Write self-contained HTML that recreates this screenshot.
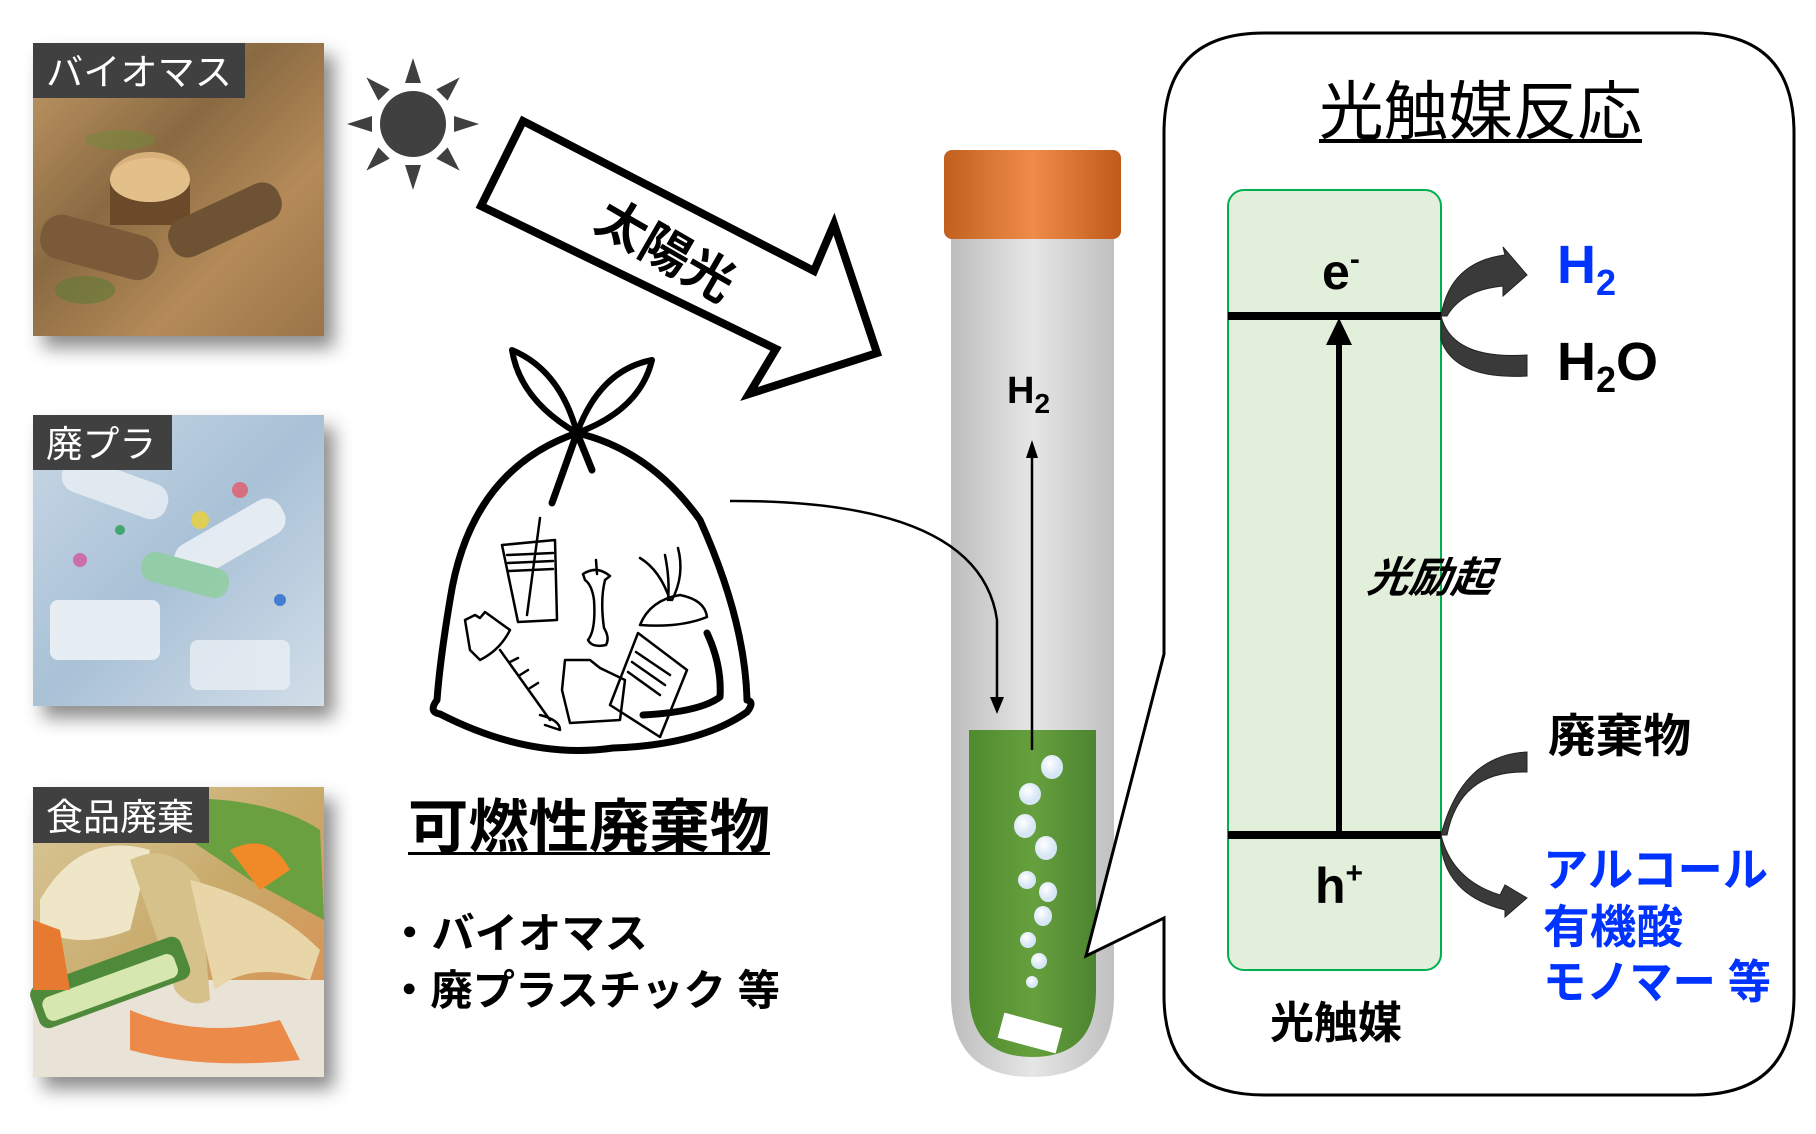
<!DOCTYPE html>
<html><head><meta charset="utf-8"><style>
html,body{margin:0;padding:0;background:#fff;}
svg{display:block;}
text{font-family:"Liberation Sans","Noto Sans CJK JP",sans-serif;}
</style></head><body>
<svg width="1816" height="1134" viewBox="0 0 1816 1134" xmlns="http://www.w3.org/2000/svg">
<defs>
<filter id="sh" x="-20%" y="-20%" width="150%" height="150%"><feDropShadow dx="10" dy="12" stdDeviation="9" flood-color="#000" flood-opacity="0.45"/></filter>
<linearGradient id="cap" x1="0" x2="1"><stop offset="0" stop-color="#c0601e"/><stop offset="0.5" stop-color="#f08c4a"/><stop offset="1" stop-color="#bf5a18"/></linearGradient>
<linearGradient id="tube" x1="0" x2="1"><stop offset="0" stop-color="#bdbdbd"/><stop offset="0.5" stop-color="#e6e6e6"/><stop offset="1" stop-color="#c0c0c0"/></linearGradient>
<linearGradient id="liq" x1="0" x2="1"><stop offset="0" stop-color="#4f8a2e"/><stop offset="0.5" stop-color="#66a03e"/><stop offset="1" stop-color="#4d8530"/></linearGradient>
<radialGradient id="bub" cx="0.4" cy="0.35"><stop offset="0" stop-color="#fff"/><stop offset="1" stop-color="#d7e6f5"/></radialGradient>
<linearGradient id="bio" x1="0" y1="0" x2="1" y2="1"><stop offset="0" stop-color="#c39a66"/><stop offset="0.4" stop-color="#8a6a42"/><stop offset="0.7" stop-color="#b48a58"/><stop offset="1" stop-color="#9a7448"/></linearGradient>
<linearGradient id="pla" x1="0" y1="0" x2="1" y2="1"><stop offset="0" stop-color="#c8d8e6"/><stop offset="0.5" stop-color="#a9c1d6"/><stop offset="1" stop-color="#d2dee9"/></linearGradient>
<linearGradient id="food" x1="0" y1="0" x2="1" y2="1"><stop offset="0" stop-color="#d9c89a"/><stop offset="0.5" stop-color="#c8aa6a"/><stop offset="1" stop-color="#e08a50"/></linearGradient>
</defs>

<g filter="url(#sh)">
<rect x="33" y="43" width="291" height="293" fill="url(#bio)"/>
<rect x="33" y="415" width="291" height="291" fill="url(#pla)"/>
<rect x="33" y="787" width="291" height="290" fill="url(#food)"/>
</g>
<g>
<ellipse cx="150" cy="180" rx="40" ry="28" fill="#d8b07a"/><rect x="110" y="180" width="80" height="45" fill="#6b4a2a"/><ellipse cx="150" cy="180" rx="40" ry="22" fill="#e3c08a"/>
<rect x="40" y="225" width="120" height="45" rx="20" fill="#7a5a38" transform="rotate(15 100 245)"/>
<rect x="165" y="200" width="120" height="40" rx="18" fill="#6e5234" transform="rotate(-25 225 220)"/>
<ellipse cx="85" cy="290" rx="30" ry="14" fill="#5f7a36" opacity="0.6"/>
<ellipse cx="120" cy="140" rx="35" ry="10" fill="#6f8a3a" opacity="0.5"/>
</g>
<g opacity="0.85">
<rect x="60" y="470" width="110" height="36" rx="16" fill="#e8eef4" transform="rotate(20 115 488)"/>
<rect x="170" y="520" width="120" height="38" rx="16" fill="#eef3f7" transform="rotate(-30 230 539)"/>
<rect x="140" y="560" width="90" height="30" rx="14" fill="#8fcfa0" transform="rotate(15 185 575)"/>
<rect x="50" y="600" width="110" height="60" rx="8" fill="#f0f4f8"/>
<rect x="190" y="640" width="100" height="50" rx="8" fill="#e6edf3"/>
<circle cx="240" cy="490" r="8" fill="#e06070"/><circle cx="200" cy="520" r="9" fill="#e8d040"/><circle cx="80" cy="560" r="7" fill="#d060a0"/>
<circle cx="280" cy="600" r="6" fill="#3070d0"/><circle cx="120" cy="530" r="5" fill="#30a060"/>
</g>
<g>
<rect x="33" y="980" width="291" height="97" fill="#e9e2d6"/>
<path d="M130 800 Q260 790 320 830 L324 920 L250 880 Z" fill="#6aa040"/>
<path d="M40 900 Q80 830 150 850 L130 930 Q80 950 40 930Z" fill="#efe6c8"/>
<path d="M130 860 Q170 840 200 880 L210 1000 Q190 1010 175 990 Z" fill="#d7c18a"/>
<path d="M190 880 Q270 900 320 950 L310 980 Q250 960 215 990 Z" fill="#e8d6a8"/>
<rect x="30" y="960" width="160" height="45" rx="10" fill="#4f8a3a" transform="rotate(-20 110 982)"/>
<rect x="40" y="975" width="140" height="25" rx="8" fill="#d6e8b0" transform="rotate(-20 110 987)"/>
<path d="M33 920 L60 930 L70 990 L33 990Z" fill="#e57a30"/>
<path d="M130 1010 Q200 1040 280 1020 L300 1060 Q200 1070 130 1050Z" fill="#ec8a4a"/>
<path d="M230 850 Q270 830 290 870 L260 890Z" fill="#f08a28"/>
</g>
<rect x="33" y="43" width="212" height="55" fill="#404040"/>
<text x="46" y="85" font-size="37" fill="#fff" textLength="186" lengthAdjust="spacingAndGlyphs">バイオマス</text>
<rect x="33" y="415" width="139" height="55" fill="#404040"/>
<text x="46" y="457" font-size="37" fill="#fff" textLength="110" lengthAdjust="spacingAndGlyphs">廃プラ</text>
<rect x="33" y="787" width="176" height="56" fill="#404040"/>
<text x="46" y="830" font-size="37" fill="#fff" textLength="148" lengthAdjust="spacingAndGlyphs">食品廃棄</text>

<g fill="#404040">
<circle cx="413" cy="124" r="33"/>
<g id="ray"><polygon points="405,83 421,83 413,58"/></g>
<use href="#ray" transform="rotate(45 413 124)"/><use href="#ray" transform="rotate(90 413 124)"/><use href="#ray" transform="rotate(135 413 124)"/>
<use href="#ray" transform="rotate(180 413 124)"/><use href="#ray" transform="rotate(225 413 124)"/><use href="#ray" transform="rotate(270 413 124)"/><use href="#ray" transform="rotate(315 413 124)"/>
</g>

<polygon points="523,121 481,206 776,349 749,394 877,353 834,224 814,271" fill="#fff" stroke="#000" stroke-width="8" stroke-linejoin="miter"/>
<text x="666" y="268" font-size="50" font-weight="bold" text-anchor="middle" transform="rotate(30 666 250)">太陽光</text>

<g fill="none" stroke="#000" stroke-linecap="round" stroke-linejoin="round">
<path d="M577 433 Q520 400 512 350 Q560 370 577 433 Z" stroke-width="6"/>
<path d="M577 433 Q600 370 652 360 Q640 410 577 433 Z" stroke-width="6"/>
<path d="M577 433 L552 503" stroke-width="7"/>
<path d="M577 433 L592 470" stroke-width="7"/>
<path d="M577 433 Q470 470 450 600 Q440 660 437 700 Q428 712 440 714 Q530 760 613 748 Q700 745 747 712 Q755 702 747 700 Q745 620 700 520 Q650 450 577 433" stroke-width="7"/>
<path d="M707 633 Q722 665 720 697 Q700 712 643 715" stroke-width="7"/>
<g stroke-width="2.5">
<path d="M502 545 L555 540 L557 620 L518 622 Z"/><path d="M507 555 L553 553 M508 563 L553 561 M509 571 L553 569"/><path d="M527 615 L540 518"/>
<path d="M583 574 Q597 565 610 576 L605 580 Q600 600 604 628 Q610 638 606 645 Q592 648 588 640 Q596 630 594 600 Q592 585 585 580Z"/><path d="M596 560 L597 574"/>
<path d="M640 558 Q660 570 670 600 M665 555 Q670 580 668 600 M678 548 Q685 575 672 600"/><path d="M640 625 Q650 600 680 595 Q705 600 707 617 Q680 628 640 625Z"/>
<path d="M465 620 L475 615 L480 618 L485 612 L510 630 Q500 650 480 660 L470 650 Z"/><path d="M500 650 L550 720 M540 715 Q560 720 560 730 L545 725"/><path d="M510 662 L518 658 M520 675 L528 670 M530 688 L538 683"/>
<path d="M638 633 L687 670 L660 737 L610 705 Z"/><path d="M636 652 L670 675 M632 662 L665 685 M628 672 L660 695"/>
<path d="M565 660 L590 660 L600 668 L625 680 L620 720 L570 723 L562 690 Z"/>
</g>
</g>

<path d="M951 236 L1114 236 L1114 995 Q1114 1077 1032 1077 Q951 1077 951 995 Z" fill="url(#tube)"/>
<rect x="944" y="150" width="177" height="89" rx="8" fill="url(#cap)"/>
<path d="M969 730 L1096 730 L1096 990 Q1096 1057 1032 1057 Q969 1057 969 990 Z" fill="url(#liq)"/>
<rect x="1000" y="1020" width="60" height="26" fill="#fff" transform="rotate(15 1030 1033)"/>
<g fill="url(#bub)">
<ellipse cx="1052" cy="767" rx="11" ry="12"/><ellipse cx="1030" cy="794" rx="11" ry="11"/><ellipse cx="1025" cy="826" rx="11" ry="12"/>
<ellipse cx="1046" cy="848" rx="11" ry="12"/><ellipse cx="1027" cy="880" rx="9" ry="9"/><ellipse cx="1048" cy="892" rx="9" ry="10"/>
<ellipse cx="1043" cy="916" rx="9" ry="10"/><ellipse cx="1028" cy="940" rx="8" ry="8"/><ellipse cx="1039" cy="961" rx="8" ry="8"/><ellipse cx="1032" cy="982" rx="6" ry="6"/>
</g>
<line x1="1032" y1="750" x2="1032" y2="455" stroke="#000" stroke-width="2.5"/>
<polygon points="1026,458 1038,458 1032,440" fill="#000"/>
<text x="1007" y="403" font-size="38" font-weight="bold">H<tspan font-size="28" dy="10">2</tspan></text>

<path d="M730 501 Q980 500 997 620 L997 700" fill="none" stroke="#000" stroke-width="2.5"/>
<polygon points="990,697 1004,697 997,714" fill="#000"/>

<path d="M1264 33 L1694 33 Q1794 33 1794 133 L1794 995 Q1794 1095 1694 1095 L1264 1095 Q1164 1095 1164 995 L1164 918 L1086 956 L1164 654 L1164 133 Q1164 33 1264 33 Z" fill="#fff" stroke="#000" stroke-width="3"/>
<text x="1319" y="134" font-size="64" textLength="323" lengthAdjust="spacingAndGlyphs">光触媒反応</text>
<rect x="1319" y="139" width="323" height="4" fill="#000"/>

<rect x="1228" y="190" width="213" height="780" rx="16" fill="#e2efda" stroke="#00b050" stroke-width="2"/>
<rect x="1228" y="312" width="213" height="8" fill="#000"/>
<rect x="1228" y="831" width="213" height="8" fill="#000"/>
<rect x="1336" y="340" width="6" height="495" fill="#000"/>
<polygon points="1326,345 1352,345 1339,318" fill="#000"/>
<text x="1322" y="289" font-size="50" font-weight="bold">e<tspan font-size="30" dy="-20">-</tspan></text>
<text x="1315" y="903" font-size="50" font-weight="bold">h<tspan font-size="30" dy="-20">+</tspan></text>
<text x="1430" y="592" font-size="42" font-weight="bold" font-style="italic" text-anchor="middle" transform="skewX(-8) translate(82 0)">光励起</text>
<text x="1336" y="1038" font-size="44" font-weight="bold" text-anchor="middle">光触媒</text>

<g fill="#3a3a3a" stroke="#222" stroke-width="1">
<path d="M1441 316 Q1450 262 1505 255 L1503 247 L1527 275 L1503 296 L1503 286 Q1462 290 1447 316 Z"/>
<path d="M1441 316 Q1452 360 1527 355 L1527 376 Q1455 380 1441 340 Z"/>
<path d="M1527 752 Q1462 755 1441 835 L1447 835 Q1460 770 1527 772 Z"/>
<path d="M1441 835 Q1452 880 1500 895 L1505 885 L1527 898 L1505 917 L1505 910 Q1446 895 1441 845 Z"/>
</g>
<text x="1557" y="283" font-size="54" font-weight="bold" fill="#0033ff">H<tspan font-size="36" dy="12">2</tspan></text>
<text x="1557" y="380" font-size="54" font-weight="bold">H<tspan font-size="36" dy="12">2</tspan><tspan dy="-12">O</tspan></text>
<text x="1548" y="752" font-size="46" font-weight="bold" textLength="143" lengthAdjust="spacingAndGlyphs">廃棄物</text>
<g font-size="46" font-weight="bold" fill="#0033ff">
<text x="1543" y="886" textLength="225" lengthAdjust="spacingAndGlyphs">アルコール</text>
<text x="1543" y="943" textLength="140" lengthAdjust="spacingAndGlyphs">有機酸</text>
<text x="1543" y="998" textLength="228" lengthAdjust="spacingAndGlyphs">モノマー 等</text>
</g>

<text x="408" y="847" font-size="58" font-weight="bold" textLength="362" lengthAdjust="spacingAndGlyphs">可燃性廃棄物</text>
<rect x="408" y="852" width="362" height="3" fill="#000"/>
<text x="388" y="948" font-size="42" font-weight="bold" textLength="260" lengthAdjust="spacingAndGlyphs">・バイオマス</text>
<text x="388" y="1005" font-size="42" font-weight="bold" textLength="392" lengthAdjust="spacingAndGlyphs">・廃プラスチック 等</text>
</svg>
</body></html>
